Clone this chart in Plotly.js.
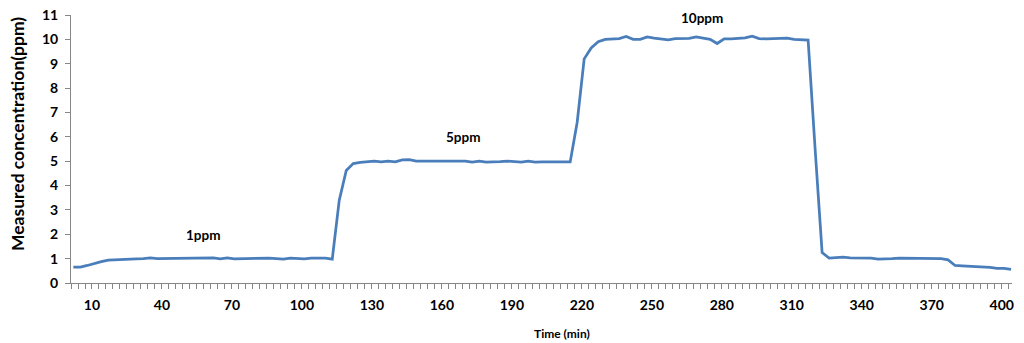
<!DOCTYPE html>
<html>
<head>
<meta charset="utf-8">
<script src="https://cdn.plot.ly/plotly-3.0.1.min.js"></script>
<style>html,body{margin:0;padding:0;background:#fff;}#chart{width:1024px;height:343px;}</style>
</head>
<body>
<div id="chart"></div>
<script>
// Time (min), sampled every 3 minutes
const timeMin = [
  2,5,8,11,14,17,20,23,26,29,
  32,35,38,41,44,47,50,53,56,59,
  62,65,68,71,74,77,80,83,86,89,
  92,95,98,101,104,107,110,113,116,119,
  122,125,128,131,134,137,140,143,146,149,
  152,155,158,161,164,167,170,173,176,179,
  182,185,188,191,194,197,200,203,206,209,
  212,215,218,221,224,227,230,233,236,239,
  242,245,248,251,254,257,260,263,266,269,
  272,275,278,281,284,287,290,293,296,299,
  302,305,308,311,314,317,320,323,326,329,
  332,335,338,341,344,347,350,353,356,359,
  362,365,368,371,374,377,380,383,386,389,
  392,395,398,401,404
];
// Measured concentration (ppm)
const concentration = [
  0.65,0.65,0.72,0.81,0.88,0.94,0.96,0.97,0.98,0.99,
  1.0,1.03,1.0,1.0,1.0,1.0,1.0,1.0,1.0,1.0,
  1.03,0.99,1.03,0.99,1.0,1.0,1.0,1.02,1.02,1.0,
  0.98,1.02,0.99,0.99,1.02,1.02,1.02,0.98,3.4,4.62,
  4.9,4.95,4.97,5.0,4.97,5.0,4.97,5.05,5.06,5.0,
  5.0,5.0,5.0,5.0,5.0,5.0,5.0,4.96,5.0,4.96,
  4.96,4.98,5.0,4.99,4.96,5.0,4.96,4.97,4.97,4.97,
  4.97,4.97,6.6,9.2,9.65,9.9,10.0,10.03,10.03,10.12,
  10.0,10.0,10.1,10.05,10.0,9.98,10.03,10.04,10.04,10.1,
  10.06,10.0,9.83,10.02,10.02,10.03,10.06,10.13,10.03,10.02,
  10.02,10.04,10.05,10.0,9.98,9.97,5.5,1.25,1.02,1.05,
  1.06,1.03,1.03,1.03,1.02,0.98,0.98,1.0,1.02,1.02,
  1.02,1.02,1.02,1.02,1.0,0.95,0.72,0.7,0.69,0.67,
  0.66,0.64,0.6,0.6,0.56
];
const xTickVals = [10,40,70,100,130,160,190,220,250,280,310,340,370,400];
const yTickVals = [0,1,2,3,4,5,6,7,8,9,10,11];
const stageLabels = ["1ppm","5ppm","10ppm"];
const stageX = [57.5,169,271.5];
const stageY = [1.97,6.0,10.86];

const FONT = "Lato, 'Open Sans', 'DejaVu Sans', sans-serif";
const axisGrey = "#868686";

const trace = {
  x: timeMin, y: concentration, type: "scatter", mode: "lines",
  line: {color: "#4A7EBB", width: 2.75},
  hoverinfo: "skip"
};

const annotations = stageLabels.map((t,i)=>({
  x: stageX[i], y: stageY[i], xref: "x", yref: "y", text: t, showarrow: false,
  font: {family: FONT, size: 13.5, color: "#000", weight: "bold"}
}));
annotations.push({
  xref: "paper", yref: "paper", x: -0.0563, y: 0.556, textangle: -90,
  text: "Measured concentration(ppm)", showarrow: false,
  xanchor: "center", yanchor: "middle",
  font: {family: FONT, size: 17.5, color: "#000", weight: "bold"}
});
annotations.push({
  xref: "paper", yref: "paper", x: 0.522, y: -0.187,
  text: "Time (min)", showarrow: false, xanchor: "center", yanchor: "middle",
  font: {family: FONT, size: 12, color: "#000", weight: "bold"}
});

const layout = {
  width: 1024, height: 343,
  margin: {l: 71, r: 12, t: 15, b: 60},
  paper_bgcolor: "#fff", plot_bgcolor: "#fff",
  showlegend: false,
  xaxis: {
    range: [1, 404.4], showgrid: false, zeroline: false,
    showline: true, linecolor: axisGrey, linewidth: 1,
    tickmode: "array", tickvals: xTickVals,
    ticks: "outside", ticklen: 5, tickcolor: axisGrey, tickwidth: 1,
    minor: {ticks: "outside", tick0: 1, dtick: 3, ticklen: 5, tickcolor: axisGrey, tickwidth: 1, showgrid: false},
    ticklabelstandoff: 4,
    tickfont: {family: FONT, size: 14, color: "#000", weight: "bold"}
  },
  yaxis: {
    range: [0, 11], showgrid: false, zeroline: false,
    showline: true, linecolor: axisGrey, linewidth: 1,
    tickmode: "array", tickvals: yTickVals,
    ticks: "outside", ticklen: 5, tickcolor: axisGrey, tickwidth: 1,
    ticklabelstandoff: 4,
    tickfont: {family: FONT, size: 14, color: "#000", weight: "bold"}
  },
  annotations: annotations
};

Plotly.newPlot("chart", [trace], layout, {displayModeBar: false, staticPlot: true});
</script>
</body>
</html>
